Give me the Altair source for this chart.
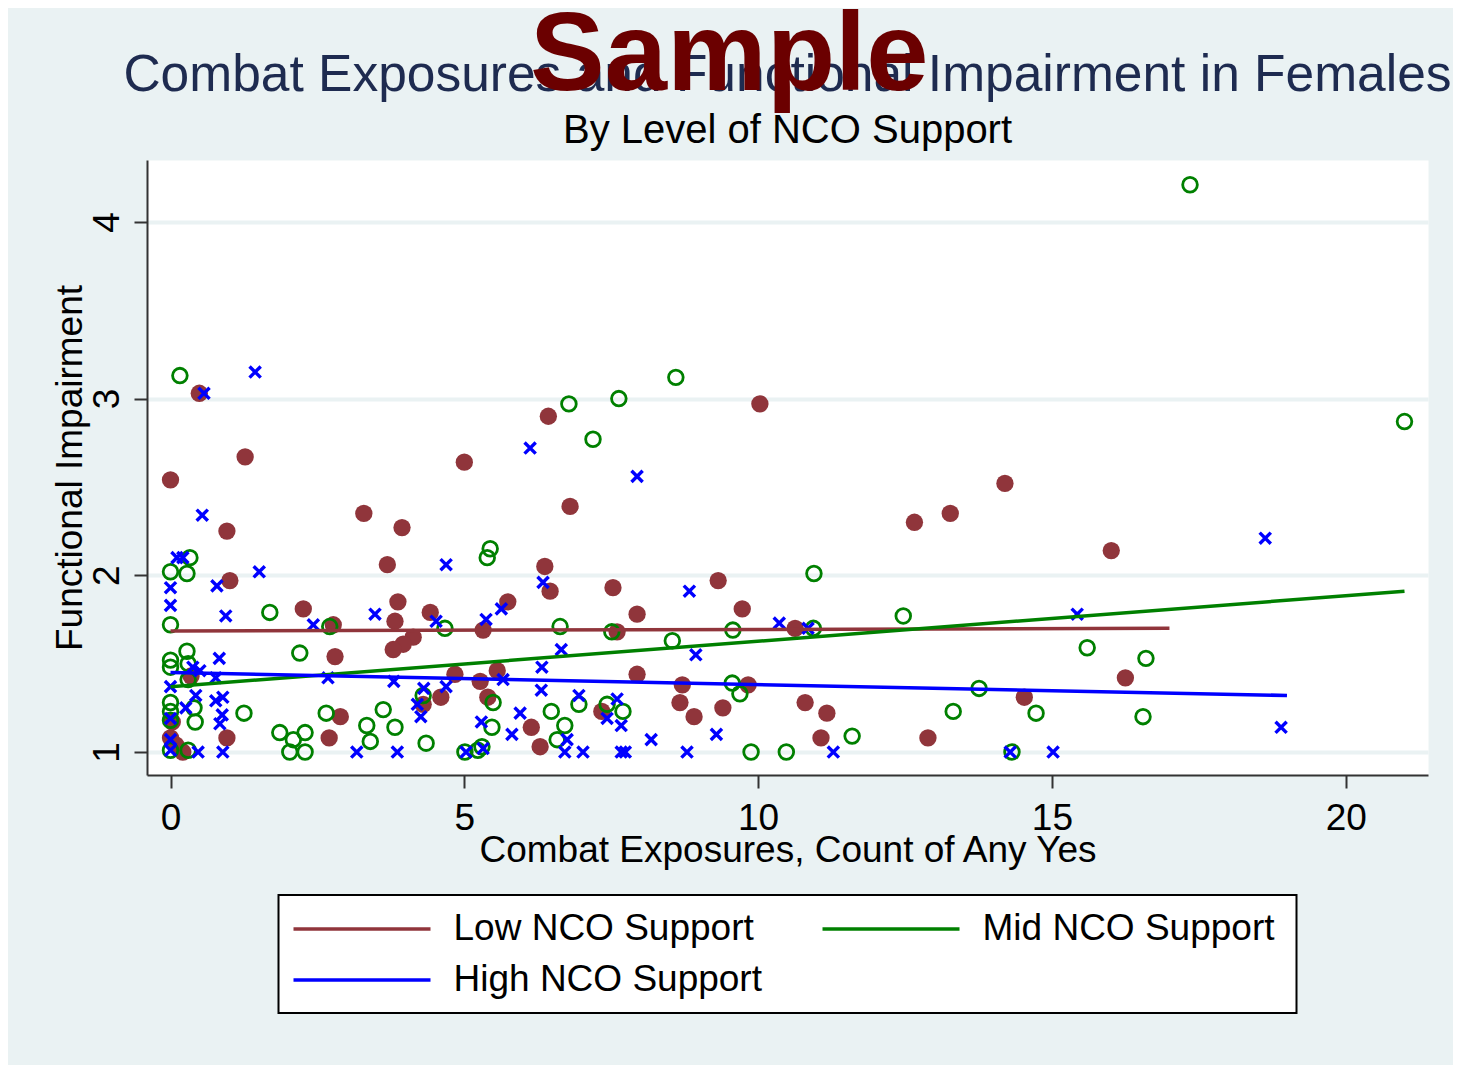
import altair as alt
import pandas as pd

# ---------------- data ----------------
groups = ["Low NCO Support", "Mid NCO Support", "High NCO Support"]
colors = ["#90353B", "#008000", "#0000FF"]

low_x = [0.49, 1.27, 0.00, 0.96, 3.29, 3.94, 5.00, 3.69, 1.01, 6.43,
         10.03, 6.80, 6.37, 9.32, 7.53, 6.46, 5.74, 9.73, 7.94, 7.60,
         10.63, 7.94, 8.71, 9.83, 8.67, 9.40, 7.34, 8.91, 10.80, 11.17,
         6.14, 6.29, 11.07, 14.20, 12.66, 13.27, 16.01, 16.25, 14.53, 12.89,
         2.26, 2.77, 3.87, 3.82, 4.42, 5.32, 4.13, 3.96, 3.79, 2.80,
         0.35, 4.84, 5.27, 5.56, 4.60, 5.40, 2.89, 2.70, 0.96, 0.21,
         0.00, 4.30, 0.03, 0.09]
low_y = [3.03, 2.67, 2.54, 2.25, 2.35, 2.27, 2.64, 2.06, 1.97, 2.90,
         2.97, 2.39, 2.05, 1.97, 1.93, 1.91, 1.85, 1.81, 1.78, 1.68,
         1.70, 1.44, 1.38, 1.38, 1.28, 1.25, 1.23, 1.20, 1.28, 1.22,
         1.14, 1.03, 1.08, 2.52, 2.30, 2.35, 2.14, 1.42, 1.31, 1.08,
         1.81, 1.72, 1.85, 1.74, 1.79, 1.69, 1.65, 1.61, 1.58, 1.54,
         1.43, 1.44, 1.40, 1.46, 1.31, 1.31, 1.20, 1.08, 1.08, 1.00,
         1.08, 1.27, 1.17, 1.04]

mid_x = [0.16, 0.33, 0.00, 0.28, 5.44, 5.39, 6.78, 7.63, 8.60, 7.19,
         10.95, 6.63, 7.51, 8.54, 9.57, 10.94, 9.56, 9.69, 5.49, 5.47,
         6.48, 6.95, 7.43, 7.70, 6.71, 6.58, 5.30, 9.88, 10.48, 0.00,
         1.69, 2.71, 4.67, 2.20, 0.28, 0.00, 0.00, 0.30, 4.30, 5.01,
         4.35, 3.40, 3.34, 3.62, 3.82, 2.65, 1.86, 2.09, 2.29, 2.03,
         2.29, 1.25, 0.30, 0.00, 0.00, 0.00, 0.40, 0.42, 0.00, 5.23,
         12.47, 15.60, 16.60, 13.76, 13.32, 14.73, 16.55, 11.60, 14.32, 17.35,
         21.00, 0.30]
mid_y = [3.13, 2.10, 2.02, 2.01, 2.15, 2.10, 2.97, 3.00, 3.12, 2.77,
         2.01, 1.71, 1.68, 1.63, 1.69, 1.70, 1.39, 1.33, 1.28, 1.14,
         1.23, 1.27, 1.27, 1.23, 1.15, 1.07, 1.03, 1.00, 1.00, 1.72,
         1.79, 1.71, 1.70, 1.56, 1.57, 1.52, 1.48, 1.50, 1.32, 1.00,
         1.05, 1.06, 1.15, 1.24, 1.14, 1.22, 1.11, 1.07, 1.11, 1.00,
         1.00, 1.22, 1.01, 1.28, 1.23, 1.18, 1.25, 1.17, 1.01, 1.01,
         1.77, 1.59, 1.53, 1.36, 1.23, 1.22, 1.20, 1.09, 1.00, 4.21,
         2.87, 1.41]

high_x = [0.57, 1.44, 0.54, 4.69, 0.11, 0.21, 1.51, 6.12, 7.94, 6.34,
          5.63, 5.37, 8.83, 10.36, 10.85, 6.65, 8.94, 6.32, 5.66, 6.31,
          6.95, 7.60, 5.95, 7.43, 7.67, 5.81, 6.75, 8.18, 9.29, 5.32,
          6.71, 7.02, 7.67, 7.74, 8.79, 11.28, 18.63, 15.43, 18.90, 14.29,
          15.02, 0.00, 0.79, 0.00, 0.94, 2.43, 3.48, 4.52, 0.83, 0.38,
          0.50, 0.77, 0.00, 2.68, 3.80, 4.31, 4.69, 4.20, 4.26, 5.29,
          5.03, 3.86, 3.17, 0.89, 0.47, 0.00, 0.00, 0.00, 0.26, 0.43,
          0.77, 0.89, 0.88, 0.84]
high_y = [3.03, 3.15, 2.34, 2.06, 2.10, 2.10, 2.02, 2.72, 2.56, 1.96,
          1.81, 1.75, 1.91, 1.73, 1.70, 1.58, 1.55, 1.48, 1.41, 1.35,
          1.32, 1.30, 1.22, 1.19, 1.15, 1.10, 1.07, 1.07, 1.10, 1.02,
          1.00, 1.00, 1.00, 1.00, 1.00, 1.00, 2.21, 1.78, 1.14, 1.00,
          1.00, 1.93, 1.94, 1.83, 1.77, 1.72, 1.78, 1.74, 1.53, 1.48,
          1.46, 1.42, 1.37, 1.42, 1.40, 1.36, 1.37, 1.27, 1.20, 1.17,
          1.00, 1.00, 1.00, 1.00, 1.00, 1.01, 1.07, 1.19, 1.25, 1.32,
          1.29, 1.31, 1.21, 1.16]

# fitted lines (end points)
fit_x_start = [0, 0, 0]
fit_x_end = [17, 21, 19]
fit_y_start = [1.685, 1.37, 1.45]
fit_y_end = [1.70, 1.91, 1.32]

x_ticks = [0, 5, 10, 15, 20]
y_ticks = [1, 2, 3, 4]

legend_col = [0, 1, 0]
legend_row = [0, 0, 1]

# ---------------- tables ----------------
pts = pd.concat([
    pd.DataFrame({"x": low_x, "y": low_y, "group": groups[0]}),
    pd.DataFrame({"x": mid_x, "y": mid_y, "group": groups[1]}),
    pd.DataFrame({"x": high_x, "y": high_y, "group": groups[2]}),
], ignore_index=True)

fit_rows = []
for g, xs, xe, ys, ye in zip(groups, fit_x_start, fit_x_end, fit_y_start, fit_y_end):
    fit_rows.append({"group": g, "x": xs, "y": ys})
    fit_rows.append({"group": g, "x": xe, "y": ye})
fits = pd.DataFrame(fit_rows)

leg = pd.DataFrame({"label": groups, "col": legend_col, "row": legend_row})

FONT = "Liberation Sans"
AXC = "#333333"

cscale = alt.Scale(domain=groups, range=colors)
xenc = alt.X("x:Q", scale=alt.Scale(domain=[-0.4, 21.4], nice=False, zero=False),
             axis=alt.Axis(values=x_ticks, title="Combat Exposures, Count of Any Yes",
                           grid=False, domainColor=AXC, domainWidth=2, tickColor=AXC,
                           tickWidth=2, tickSize=13, labelFontSize=37, labelFont=FONT,
                           labelColor="black", labelPadding=12, titleFontSize=37,
                           titleFont=FONT, titleFontWeight="normal", titleColor="black",
                           titlePadding=-4))
yenc = alt.Y("y:Q", scale=alt.Scale(domain=[0.87, 4.35], nice=False, zero=False),
             axis=alt.Axis(values=y_ticks, title="Functional Impairment",
                           grid=True, gridColor="#EAF2F3", gridWidth=4,
                           domainColor=AXC, domainWidth=2, tickColor=AXC,
                           tickWidth=2, tickSize=13, labelFontSize=37, labelFont=FONT,
                           labelColor="black", labelAngle=-90, labelAlign="center",
                           labelBaseline="alphabetic", labelPadding=16,
                           titleFontSize=37, titleFont=FONT, titleFontWeight="normal",
                           titleColor="black", titlePadding=-1))
cenc = alt.Color("group:N", scale=cscale, legend=None)

base = alt.Chart(pts)
low_layer = base.transform_filter(alt.datum.group == groups[0]).mark_point(
    shape="circle", filled=True, size=300, opacity=1).encode(x=xenc, y=yenc, color=cenc)
mid_layer = base.transform_filter(alt.datum.group == groups[1]).mark_point(
    shape="circle", filled=False, size=215, strokeWidth=2.8, opacity=1).encode(x=xenc, y=yenc, color=cenc)
high_layer = base.transform_filter(alt.datum.group == groups[2]).mark_point(
    shape="M-1,-1L1,1M-1,1L1,-1", filled=False, size=125, strokeWidth=3.4, opacity=1).encode(
    x=xenc, y=yenc, color=cenc)
fit_layer = alt.Chart(fits).mark_line(strokeWidth=3.5).encode(x=xenc, y=yenc, color=cenc)

main = alt.layer(low_layer, mid_layer, high_layer, fit_layer).properties(
    width=1281, height=615,
    view=alt.ViewBackground(fill="white", stroke="transparent"),
    title=alt.TitleParams(
        text="Combat Exposures and Functional Impairment in Females",
        subtitle="By Level of NCO Support",
        font=FONT, fontSize=51.5, fontWeight="normal", color="#1E2B50",
        subtitleFont=FONT, subtitleFontSize=40, subtitleColor="black",
        anchor="middle", frame="group", offset=9, subtitlePadding=10),
)

lx = alt.X("col:Q", scale=alt.Scale(domain=[-0.02836, 1.896], nice=False, zero=False), axis=None)
ly = alt.Y("row:Q", scale=alt.Scale(domain=[-0.667, 1.647], nice=False, zero=False, reverse=True), axis=None)
leg_lines = alt.Chart(leg).mark_rule(strokeWidth=3.5, x2Offset=137).encode(
    x=lx, x2="col:Q", y=ly, color=alt.Color("label:N", scale=cscale, legend=None))
leg_text = alt.Chart(leg).mark_text(align="left", baseline="alphabetic", dx=160, dy=11,
                                    fontSize=37, font=FONT, color="black").encode(
    x=lx, y=ly, text="label:N")
legend_panel = alt.layer(leg_lines, leg_text).properties(
    width=1018, height=118,
    view=alt.ViewBackground(fill="white", stroke="black", strokeWidth=2))

chart = alt.vconcat(main, legend_panel, spacing=120, center=True, bounds="flush").properties(
    title=alt.TitleParams(text="Sample", font=FONT, fontSize=112, fontWeight="bold",
                          color="#6B0000", anchor="middle", dy=69, dx=-22),
    background="#EAF2F3",
    padding={"left": 42, "top": -8, "right": 0, "bottom": 64},
)

chart.save("out.html", embed_options={"renderer": "svg", "actions": False})
